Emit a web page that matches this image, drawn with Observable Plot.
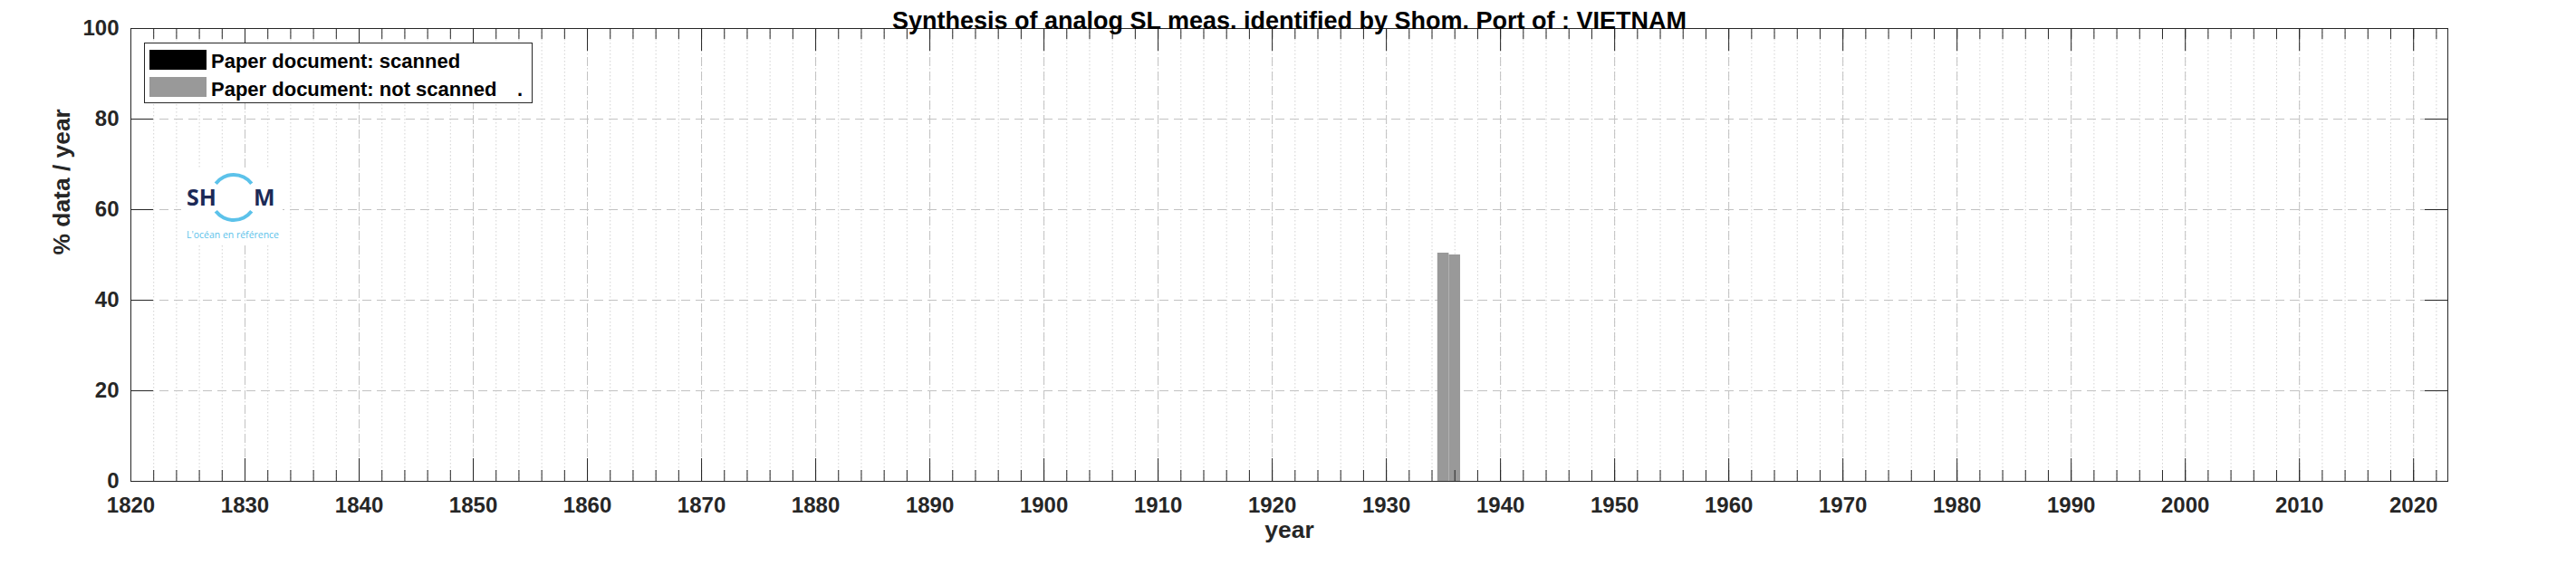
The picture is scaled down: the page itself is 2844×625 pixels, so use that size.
<!DOCTYPE html>
<html>
<head>
<meta charset="utf-8">
<script src="https://cdn.jsdelivr.net/npm/d3@7"></script>
<script src="https://cdn.jsdelivr.net/npm/@observablehq/plot@0.6"></script>
<style>
  html, body { margin: 0; padding: 0; background: white; overflow: hidden; }
  #chart svg { display: block; }
</style>
</head>
<body>
<div id="chart"></div>
<script>
// ---- data ----
const years = [1935, 1936];
const notScanned = [50.4, 50.0];   // % data / year, paper document not scanned
const scanned = [0, 0];            // % data / year, paper document scanned
const seriesNames = ["Paper document: scanned", "Paper document: not scanned"];
const seriesColors = ["#000000", "#999999"];
const xTicks = [1820, 1830, 1840, 1850, 1860, 1870, 1880, 1890, 1900, 1910, 1920, 1930, 1940, 1950, 1960, 1970, 1980, 1990, 2000, 2010, 2020];
const xMinorTicks = d3.range(1822, 2023, 2);
const yTicks = [0, 20, 40, 60, 80, 100];
const yGrid = [20, 40, 60, 80];
const xDomain = [1820, 2023];
const yDomain = [0, 100];
const titleText = "Synthesis of analog SL meas. identified by Shom. Port of : VIETNAM";
const xLabel = "year";
const yLabel = "% data / year";

// ---- layout ----
const W = 2844, H = 625;
const mL = 144, mR = 142, mT = 31, mB = 94;
const fw = W - mL - mR, fh = H - mT - mB;
const majorLen = 25, minorLen = 12;
const axisColor = "#262626";
const font = "'Liberation Sans', Arial, Helvetica, sans-serif";

const rows = [];
years.forEach((yr, i) => {
  rows.push({year: yr, type: seriesNames[0], y1: 0, y2: scanned[i]});
  rows.push({year: yr, type: seriesNames[1], y1: scanned[i], y2: scanned[i] + notScanned[i]});
});

const chart = Plot.plot({
  width: W, height: H,
  marginLeft: mL, marginRight: mR, marginTop: mT, marginBottom: mB,
  style: {fontFamily: font, background: "white", overflow: "visible"},
  x: {domain: xDomain, axis: null},
  y: {domain: yDomain, axis: null},
  color: {domain: seriesNames, range: seriesColors},
  marks: [
    // minor dotted grid
    Plot.ruleX(xMinorTicks, {stroke: "#d2d2d2", strokeWidth: 1, strokeDasharray: "1.5,2.5"}),
    // major dashed grid
    Plot.ruleX(xTicks.slice(1), {stroke: "#c2c2c2", strokeWidth: 1, strokeDasharray: "10,6"}),
    Plot.ruleY(yGrid, {stroke: "#c2c2c2", strokeWidth: 1, strokeDasharray: "10,6"}),
    // bars
    Plot.rectY(rows, {x1: d => d.year - 0.5, x2: d => d.year + 0.5, y1: "y1", y2: "y2", fill: "type"}),
    // box
    Plot.frame({stroke: axisColor, strokeWidth: 1}),
    // ticks (inward), bottom & top
    Plot.ruleX(xTicks, {stroke: axisColor, insetTop: fh - majorLen}),
    Plot.ruleX(xTicks, {stroke: axisColor, insetBottom: fh - majorLen}),
    Plot.ruleX(xMinorTicks, {stroke: axisColor, insetTop: fh - minorLen}),
    Plot.ruleX(xMinorTicks, {stroke: axisColor, insetBottom: fh - minorLen}),
    // ticks (inward), left & right
    Plot.ruleY(yTicks, {stroke: axisColor, insetRight: fw - majorLen}),
    Plot.ruleY(yTicks, {stroke: axisColor, insetLeft: fw - majorLen}),
    // tick labels
    Plot.axisX(xTicks, {tickSize: 0, tickPadding: 17, fontSize: 24, fontWeight: "bold", fill: axisColor, tickFormat: d => String(d), label: null}),
    Plot.axisY(yTicks, {tickSize: 0, tickPadding: 13, fontSize: 24, fontWeight: "bold", fill: axisColor, tickFormat: d => String(d), label: null}),
    // title & axis labels
    Plot.text([titleText], {frameAnchor: "top", dy: -19, fontSize: 27, fontWeight: "bold", fill: "#000"}),
    Plot.text([xLabel], {frameAnchor: "bottom", dy: 62, fontSize: 26.4, fontWeight: "bold", fill: axisColor}),
    Plot.text([yLabel], {frameAnchor: "left", dx: -76, rotate: -90, fontSize: 26.4, fontWeight: "bold", fill: axisColor})
  ]
});

document.getElementById("chart").appendChild(chart);

const svg = d3.select(chart);

// ---- legend (inside the axes, top-left) ----
const lg = svg.append("g").attr("class", "legend").attr("text-anchor", "start");
lg.append("rect").attr("x", 159.5).attr("y", 47.5).attr("width", 428).attr("height", 66)
  .attr("fill", "white").attr("stroke", axisColor).attr("stroke-width", 1);
seriesNames.forEach((name, i) => {
  lg.append("rect").attr("x", 165).attr("y", 55 + i * 30).attr("width", 63).attr("height", 22)
    .attr("fill", seriesColors[i]);
  lg.append("text").attr("x", 233).attr("y", 75 + i * 31).attr("text-anchor", "start")
    .attr("font-family", font).attr("font-size", 22).attr("font-weight", "bold").attr("fill", "#000")
    .text(name);
});
lg.append("text").attr("x", 571).attr("y", 106).attr("text-anchor", "start")
  .attr("font-family", font).attr("font-size", 22).attr("font-weight", "bold").attr("fill", "#000")
  .text(".");

// ---- SHOM logo ----
const logo = svg.append("g").attr("class", "logo").attr("text-anchor", "start");
logo.append("rect").attr("x", 200).attr("y", 187).attr("width", 112).attr("height", 84).attr("fill", "white");
const navy = "#1c2a57", sky = "#5cc2ea";
const cx = 258, cy = 218, r = 25;
const arc = d3.arc().innerRadius(r - 2).outerRadius(r + 2);
logo.append("path").attr("transform", `translate(${cx},${cy})`).attr("fill", sky)
  .attr("d", arc({startAngle: -Math.PI * 0.29, endAngle: Math.PI * 0.29}));
logo.append("path").attr("transform", `translate(${cx},${cy})`).attr("fill", sky)
  .attr("d", arc({startAngle: Math.PI * 0.71, endAngle: Math.PI * 1.29}));
logo.append("text").attr("x", 206).attr("y", 227).attr("text-anchor", "start").attr("font-family", "'Open Sans', sans-serif")
  .attr("font-size", 25).attr("font-weight", "bold").attr("fill", navy).text("SH");
logo.append("text").attr("x", 280).attr("y", 227).attr("text-anchor", "start").attr("font-family", "'Open Sans', sans-serif")
  .attr("font-size", 25).attr("font-weight", "bold").attr("fill", navy).text("M");
logo.append("text").attr("x", 206).attr("y", 263).attr("text-anchor", "start").attr("font-family", "'Open Sans', sans-serif")
  .attr("font-size", 10).attr("fill", sky).attr("textLength", 102).attr("lengthAdjust", "spacingAndGlyphs")
  .text("L'océan en référence");
</script>
</body>
</html>
